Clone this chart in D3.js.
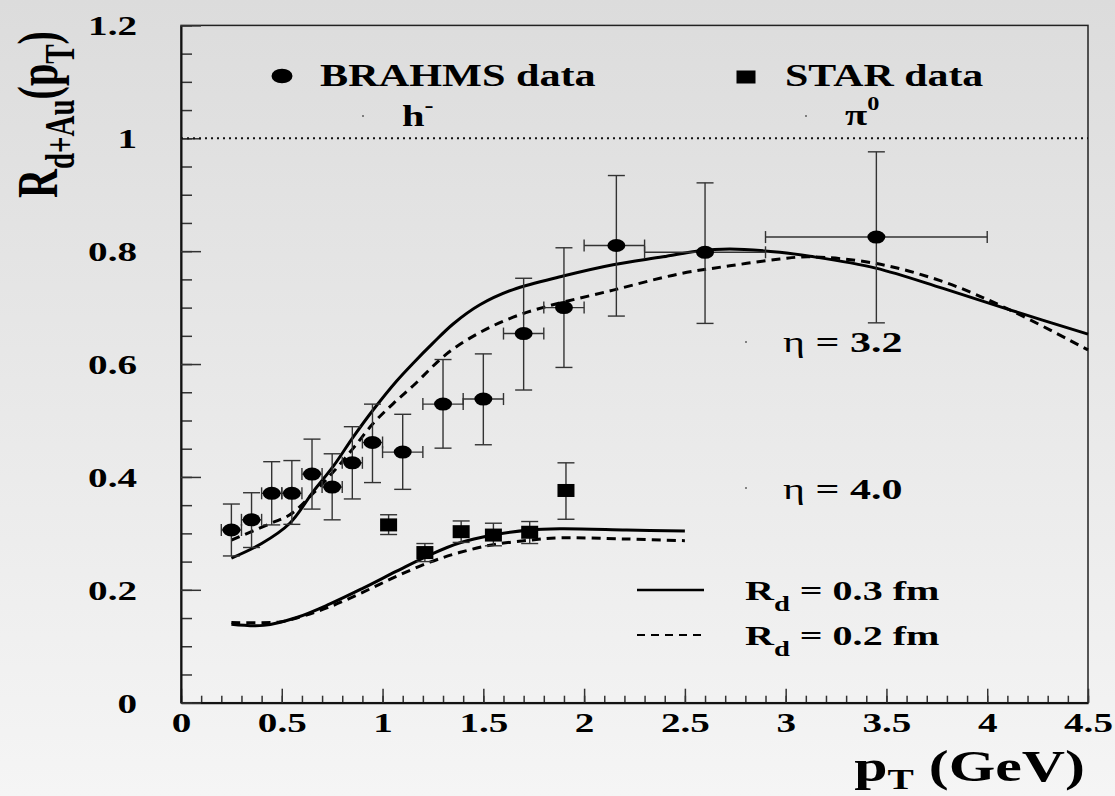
<!DOCTYPE html>
<html>
<head>
<meta charset="utf-8">
<script src="https://cdn.jsdelivr.net/npm/d3@7"></script>
<style>
body{margin:0;}
text{font-family:"Liberation Serif","Times New Roman",serif;font-weight:bold;fill:#000;}
</style>
</head>
<body>
<script>
// BRAHMS h- points: pT, R, pT range and R range
var brahmsPt   =[0.25,0.35,0.45,0.55,0.65,0.75,0.85,0.95,1.1,1.3,1.5,1.7,1.9,2.16,2.6,3.45];
var brahmsR    =[0.306,0.324,0.371,0.371,0.405,0.382,0.425,0.461,0.444,0.529,0.538,0.654,0.700,0.810,0.798,0.825];
var brahmsRLo  =[0.260,0.275,0.315,0.316,0.343,0.324,0.361,0.390,0.378,0.451,0.457,0.554,0.594,0.685,0.672,0.673];
var brahmsRHi  =[0.352,0.372,0.427,0.429,0.467,0.441,0.489,0.529,0.511,0.608,0.618,0.752,0.806,0.934,0.921,0.976];
var brahmsPtLo =[0.2,0.3,0.4,0.5,0.6,0.7,0.8,0.9,1.0,1.2,1.4,1.6,1.8,2.0,2.3,2.9];
var brahmsPtHi =[0.3,0.4,0.5,0.6,0.7,0.8,0.9,1.0,1.2,1.4,1.6,1.8,2.0,2.3,2.9,4.0];

// STAR pi0 points
var starPt  =[1.03,1.21,1.39,1.55,1.73,1.91];
var starR   =[0.315,0.266,0.303,0.297,0.302,0.376];
var starRLo =[0.298,0.250,0.284,0.278,0.282,0.325];
var starRHi =[0.333,0.282,0.322,0.318,0.321,0.425];

// model curves, eta = 3.2
var upperSolidPt=[0.25,0.4,0.54,0.656,0.756,0.855,0.954,1.07,1.153,1.25,1.35,1.483,1.648,1.896,2.144,2.392,2.558,2.723,2.971,3.12,3.447,3.781,4.112,4.5];
var upperSolidR =[0.256,0.282,0.318,0.374,0.419,0.471,0.519,0.570,0.602,0.637,0.671,0.705,0.732,0.756,0.776,0.790,0.800,0.804,0.798,0.791,0.770,0.734,0.696,0.653];
var upperDashPt =[0.25,0.44,0.54,0.656,0.756,0.855,0.954,1.053,1.153,1.318,1.483,1.648,1.814,2.144,2.475,2.723,2.971,3.12,3.45,3.781,4.112,4.5];
var upperDashR  =[0.288,0.317,0.333,0.371,0.409,0.451,0.495,0.530,0.562,0.618,0.656,0.683,0.702,0.731,0.760,0.774,0.786,0.790,0.778,0.746,0.696,0.625];
// model curves, eta = 4.0
var lowerSolidPt=[0.25,0.41,0.574,0.739,0.904,1.07,1.235,1.381,1.549,1.731,1.88,2.211,2.5];
var lowerSolidR =[0.139,0.137,0.151,0.175,0.203,0.233,0.262,0.283,0.297,0.306,0.308,0.306,0.304];
var lowerDashPt =[0.25,0.49,0.574,0.739,0.904,1.07,1.235,1.381,1.549,1.731,1.88,2.211,2.5];
var lowerDashR  =[0.142,0.143,0.150,0.170,0.196,0.224,0.249,0.266,0.280,0.288,0.292,0.290,0.287];

var xTicks=[0,0.5,1,1.5,2,2.5,3,3.5,4,4.5];
var yTicks=[0,0.2,0.4,0.6,0.8,1,1.2];

var width=1115, height=796;
var margin={left:181, right:27, top:25.4, bottom:93.3};

var x=d3.scaleLinear().domain([0,4.5]).range([margin.left, width-margin.right]);
var y=d3.scaleLinear().domain([0,1.2]).range([height-margin.bottom, margin.top]);

var svg=d3.select("body").append("svg").attr("width",width).attr("height",height);

var grad=svg.append("defs").append("linearGradient").attr("id","bg")
  .attr("x1",0).attr("y1",0).attr("x2",0).attr("y2",1);
grad.append("stop").attr("offset","0%").attr("stop-color","#dcdcdc");
grad.append("stop").attr("offset","100%").attr("stop-color","#f5f5f5");
svg.append("rect").attr("width",width).attr("height",height).attr("fill","url(#bg)");

// frame
svg.append("rect")
  .attr("x",x(0)).attr("y",y(1.2))
  .attr("width",x(4.5)-x(0)).attr("height",y(0)-y(1.2))
  .attr("fill","none").attr("stroke","#222").attr("stroke-width",1.5);

var fmt=d3.format("~g");

// x axis: minor ticks every 0.1, major every 0.5, all pointing inward
var xMinor=d3.axisBottom(x).tickValues(d3.range(0,4.501,0.1)).tickSize(-7).tickFormat("");
var xMajor=d3.axisBottom(x).tickValues(xTicks).tickSize(-14).tickSizeOuter(0).tickFormat(fmt);
svg.append("g").attr("transform","translate(0,"+y(0)+")").call(xMinor)
  .call(function(g){g.select(".domain").remove();});
var gx=svg.append("g").attr("transform","translate(0,"+y(0)+")").call(xMajor);
gx.select(".domain").attr("stroke","#111").attr("stroke-width",2);
gx.selectAll("text").attr("y",29).attr("dy",0)
  .style("font-size","27px").attr("transform","scale(1.45,1)");

// y axis: minor ticks every 0.05, major every 0.2
var yMinor=d3.axisLeft(y).tickValues(d3.range(0,1.201,0.05)).tickSize(-11).tickFormat("");
var yMajor=d3.axisLeft(y).tickValues(yTicks).tickSize(-20).tickSizeOuter(0).tickFormat(fmt);
svg.append("g").attr("transform","translate("+x(0)+",0)").call(yMinor)
  .call(function(g){g.select(".domain").remove();});
var gy=svg.append("g").attr("transform","translate("+x(0)+",0)").call(yMajor);
gy.select(".domain").attr("stroke","#111").attr("stroke-width",2);
gy.selectAll("text").attr("x",-44/1.45).attr("y",9.5).attr("dy",0)
  .style("font-size","27px").attr("transform","scale(1.45,1)");
svg.selectAll(".tick line").attr("stroke","#333").attr("stroke-width",1.5);

// R = 1 reference
svg.append("line")
  .attr("x1",x(0)).attr("x2",x(4.5)).attr("y1",y(1)).attr("y2",y(1))
  .attr("stroke","#111").attr("stroke-width",2).attr("stroke-dasharray","2,4");

// model curves
function drawCurve(pts, rs, dash){
  var line=d3.line()
    .x(function(d){return x(pts[d]);})
    .y(function(d){return y(rs[d]);})
    .curve(d3.curveCatmullRom.alpha(0.5));
  svg.append("path").attr("d",line(d3.range(pts.length)))
    .attr("fill","none").attr("stroke","#000").attr("stroke-width",3)
    .attr("stroke-dasharray",dash ? "9,6" : null);
}
drawCurve(upperSolidPt, upperSolidR, false);
drawCurve(upperDashPt, upperDashR, true);
drawCurve(lowerSolidPt, lowerSolidR, false);
drawCurve(lowerDashPt, lowerDashR, true);

// error bars
var capW=8.5, capH=6;
var eb=svg.append("g").attr("stroke","#333").attr("stroke-width",1.4);
function vBar(px, lo, hi){
  eb.append("line").attr("x1",x(px)).attr("x2",x(px)).attr("y1",y(lo)).attr("y2",y(hi));
  eb.append("line").attr("x1",x(px)-capW).attr("x2",x(px)+capW).attr("y1",y(lo)).attr("y2",y(lo));
  eb.append("line").attr("x1",x(px)-capW).attr("x2",x(px)+capW).attr("y1",y(hi)).attr("y2",y(hi));
}
function hBar(py, lo, hi){
  eb.append("line").attr("x1",x(lo)).attr("x2",x(hi)).attr("y1",y(py)).attr("y2",y(py));
  eb.append("line").attr("x1",x(lo)).attr("x2",x(lo)).attr("y1",y(py)-capH).attr("y2",y(py)+capH);
  eb.append("line").attr("x1",x(hi)).attr("x2",x(hi)).attr("y1",y(py)-capH).attr("y2",y(py)+capH);
}
brahmsPt.forEach(function(p,i){
  vBar(p, brahmsRLo[i], brahmsRHi[i]);
  hBar(brahmsR[i], brahmsPtLo[i], brahmsPtHi[i]);
});
starPt.forEach(function(p,i){ vBar(p, starRLo[i], starRHi[i]); });

// markers
svg.selectAll(".brahms").data(brahmsPt).enter().append("ellipse")
  .attr("cx",function(d){return x(d);})
  .attr("cy",function(d,i){return y(brahmsR[i]);})
  .attr("rx",9).attr("ry",6.5).attr("fill","#000");
svg.selectAll(".star").data(starPt).enter().append("rect")
  .attr("x",function(d){return x(d)-8.5;})
  .attr("y",function(d,i){return y(starR[i])-6.5;})
  .attr("width",17).attr("height",13).attr("fill","#000");

// text helper: the original figure is stretched horizontally
function label(tx, ty, sx, size, anchor){
  return svg.append("text")
    .attr("transform","translate("+tx+","+ty+") scale("+sx+",1)")
    .attr("text-anchor",anchor||"start")
    .style("font-size",size+"px");
}

// top legend
svg.append("ellipse").attr("cx",282).attr("cy",76).attr("rx",10.5).attr("ry",7.3).attr("fill","#000");
label(320,86,1.32,32).text("BRAHMS data");
svg.append("rect").attr("x",736.5).attr("y",70.5).attr("width",19).attr("height",13).attr("fill","#000");
label(785,86,1.31,32).text("STAR data");

var th=label(402,126,1.35,30);
th.append("tspan").text("h");
th.append("tspan").attr("dy",-14).style("font-size","20px").text("-");
var tp=label(845,125,1.35,30);
tp.append("tspan").text("π");
tp.append("tspan").attr("dy",-15).style("font-size","18px").text("0");

// small dots left of the labels
[[363,116],[806,116],[746,342],[746,488]].forEach(function(d){
  svg.append("circle").attr("cx",d[0]).attr("cy",d[1]).attr("r",0.8).attr("fill","#000");
});

// eta labels
function etaLabel(ty, val){
  var t=label(783,ty,1.4,30);
  t.append("tspan").style("font-weight","normal").text("η");
  t.append("tspan").text(" = "+val);
}
etaLabel(351.7,"3.2");
etaLabel(499,"4.0");

// line legend
svg.append("line").attr("x1",637).attr("x2",704).attr("y1",590).attr("y2",590)
  .attr("stroke","#000").attr("stroke-width",2.5);
svg.append("line").attr("x1",637).attr("x2",704).attr("y1",635).attr("y2",635)
  .attr("stroke","#000").attr("stroke-width",2).attr("stroke-dasharray","8,6");
function rdLabel(ty, val){
  var t=label(745,ty,1.43,28);
  t.append("tspan").text("R");
  t.append("tspan").attr("dy",11).style("font-size","20px").text("d");
  t.append("tspan").attr("dy",-11).text(" = "+val+" fm");
}
rdLabel(600,"0.3");
rdLabel(645,"0.2");

// axis titles
var xt=label(1085,781,1.36,44,"end");
xt.append("tspan").text("p");
xt.append("tspan").attr("dy",8).style("font-size","29px").text("T");
xt.append("tspan").attr("dy",-8).text(" (GeV)");

var yt=svg.append("text")
  .attr("transform","translate(57,198) scale(1.42,1) rotate(-90)")
  .style("font-size","40px");
yt.append("tspan").text("R");
yt.append("tspan").attr("dy",12).style("font-size","29px").text("d+Au");
yt.append("tspan").attr("dy",-12).text("(p");
yt.append("tspan").attr("dy",12).style("font-size","29px").text("T");
yt.append("tspan").attr("dy",-12).text(")");
</script>
</body>
</html>
